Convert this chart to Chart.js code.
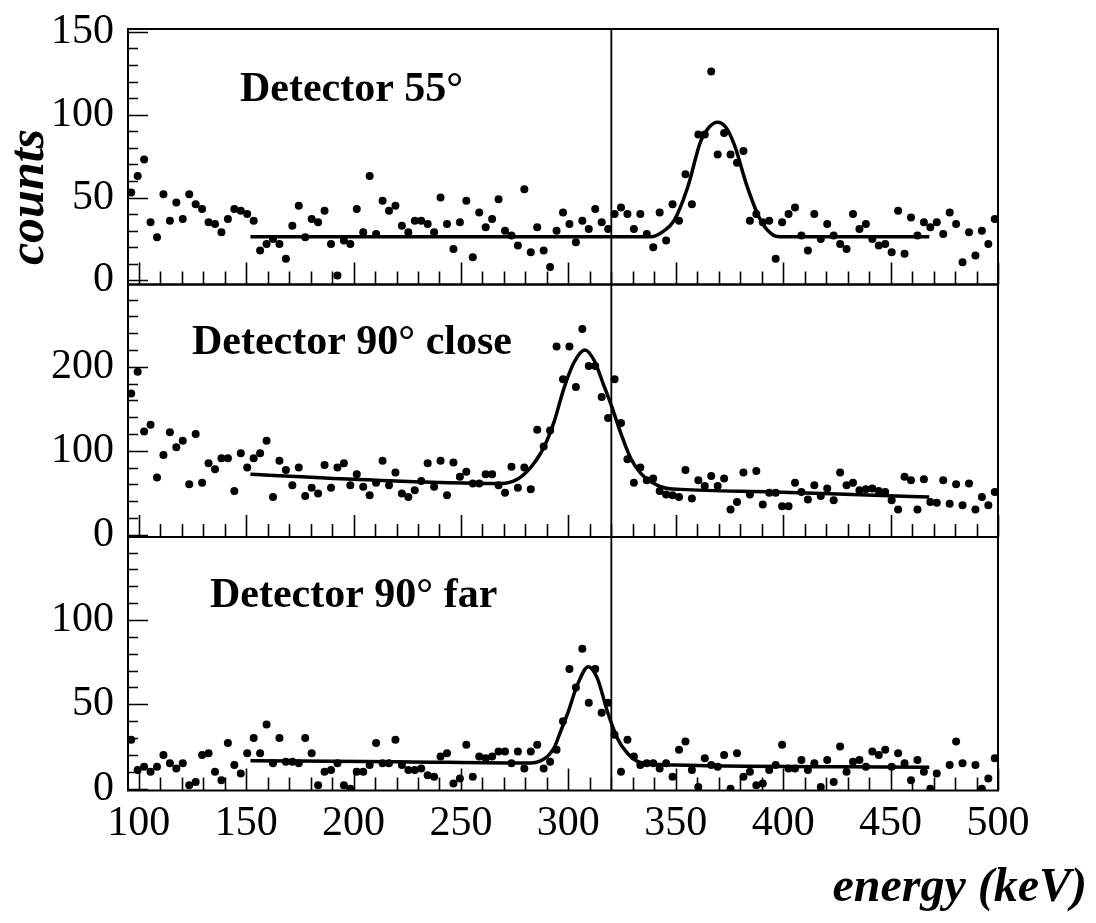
<!DOCTYPE html>
<html><head><meta charset="utf-8">
<script src="https://cdn.jsdelivr.net/npm/chart.js@4/dist/chart.umd.min.js"></script>
<style>
html,body{margin:0;padding:0;background:#fff;}
#wrap{position:relative;width:1096px;height:923px;overflow:hidden;background:#fff;}
#wrap canvas{position:absolute;left:0;top:0;}
</style></head><body>
<div id="wrap">
<canvas id="c1" width="1096" height="923"></canvas>
<canvas id="c2" width="1096" height="923"></canvas>
<canvas id="c3" width="1096" height="923"></canvas>
</div>
<script>
// ---- data ----
const energy = [
96.5,99.5,102.5,105.5,108.5,111.5,114.5,117.5,120.5,123.5,
126.5,129.5,132.5,135.5,138.5,141.5,144.5,147.5,150.5,153.5,
156.5,159.5,162.5,165.5,168.5,171.5,174.5,177.5,180.5,183.5,
186.5,189.5,192.5,195.5,198.5,201.5,204.5,207.5,210.5,213.5,
216.5,219.5,222.5,225.5,228.5,231.5,234.5,237.5,240.5,243.5,
246.5,249.5,252.5,255.5,258.5,261.5,264.5,267.5,270.5,273.5,
276.5,279.5,282.5,285.5,288.5,291.5,294.5,297.5,300.5,303.5,
306.5,309.5,312.5,315.5,318.5,321.5,324.5,327.5,330.5,333.5,
336.5,339.5,342.5,345.5,348.5,351.5,354.5,357.5,360.5,363.5,
366.5,369.5,372.5,375.5,378.5,381.5,384.5,387.5,390.5,393.5,
396.5,399.5,402.5,405.5,408.5,411.5,414.5,417.5,420.5,423.5,
426.5,429.5,432.5,435.5,438.5,441.5,444.5,447.5,450.5,453.5,
456.5,459.5,462.5,465.5,468.5,471.5,474.5,477.5,480.5,483.5,
486.5,489.5,492.5,495.5,498.5];

const counts55 = [
53,63,73,35,26,52,36,47,37,52,46,43,35,34,29,37,43,42,40,36,
18,22,25,22,13,33,45,26,37,35,42,22,3,24,22,43,29,63,28,48,
42,45,33,29,36,36,34,29,50,34,19,35,48,14,41,32,37,49,30,27,
21,55,17,32,18,8,30,
41,34,23,36,31,43,35,31,40,44,40,31,40,28,20,41,24,46,36,64,
46,88,88,126,76,89,76,71,78,36,40,35,36,13,35,40,44,27,18,40,
25,34,27,22,19,40,31,34,25,21,22,17,42,16,38,27,35,32,35,28,
41,34,11,29,15,30,22,37];

const counts90close = [
168,194,123,131,68,95,122,104,112,60,120,62,85,78,91,91,52,97,80,91,
97,112,45,88,77,59,80,46,56,49,83,56,80,85,59,72,57,47,62,88,
59,74,49,45,53,64,85,57,88,47,86,69,75,61,61,72,72,59,50,81,
56,80,54,125,105,124,224,
185,224,176,245,201,201,164,139,185,133,90,62,80,65,67,52,48,47,45,77,
43,65,58,70,58,67,30,39,74,48,76,36,50,50,34,34,62,51,42,59,
46,55,41,74,59,62,53,54,55,52,51,41,30,69,65,30,66,39,38,65,
37,60,35,61,30,45,35,51];

const counts90far = [
29,11,13,10,13,20,15,12,15,2,4,20,21,10,5,27,14,9,21,30,
21,38,15,30,16,16,15,30,21,2,10,11,15,2,0,10,10,14,27,15,
15,29,14,11,11,12,8,7,19,21,3,6,26,7,19,18,19,22,22,15,
22,12,22,26,12,16,23,
40,71,60,83,51,71,45,51,32,10,29,19,14,15,15,12,15,7,23,28,
11,1,18,14,13,20,0,21,7,10,2,3,11,14,26,12,12,17,11,15,
1,17,4,25,10,16,17,13,22,20,23,13,21,15,5,17,10,0,9,null,
14,28,15,null,14,0,6,18];

// fitted curves
const fitEnergy55 = [152,338.4,344.5,349.2,355.5,361.6,365.5,369.4,373.3,377.2,383.4,389.6,395.8,398.9,468];
const fitCounts55 = [26.3,26.3,29.9,36,56,84,92.4,95.4,92.4,82,56,36,27,26.3,26.3];

const fitEnergy90close = [152,200,268.5,276.2,282.4,287.1,290.2,293.3,297.9,302.6,307.7,311.9,316.6,319.7,324.4,329,333.7,338.4,344.6,352.4,395.8,442.4,468];
const fitCounts90close = [72,66,61,66,80,97,113,134,174,205,220,208,177,156,121,91,73,63,56,54,51,47,45];

const fitEnergy90far = [152,220,282.4,287.1,290.2,293.3,296.4,299.5,304.2,309.3,313.5,318.2,322.8,327.5,333.7,349.2,468];
const fitCounts90far = [16.6,16,15.2,16.5,19,24,34,44,61.5,72.3,65.4,45.6,29.9,21,15.5,14,12.7];

const markerEnergy = 320;

const xTicks = [100,150,200,250,300,350,400,450,500];
const yTicks55 = [0,50,100,150];
const yTicks90close = [0,100,200];
const yTicks90far = [0,50,100];

const panelTitles = ['Detector 55\u00b0', 'Detector 90\u00b0 close', 'Detector 90\u00b0 far'];
const xTitle = 'energy (keV)';
const yTitle = 'counts';

// ---- drawing ----
const SERIF = '"Liberation Serif", "Times New Roman", serif';
Chart.defaults.font.family = SERIF;
Chart.defaults.color = '#000';

const framePlugin = {
  id: 'panelFrame',
  afterDatasetsDraw(chart, args, o) {
    const {ctx, chartArea: a} = chart;
    const x = chart.scales.x, y = chart.scales.y;
    ctx.save();
    ctx.strokeStyle = '#000';
    ctx.lineWidth = 1.6;
    ctx.beginPath();
    // y ticks (inside)
    for (let v = 0; v <= y.max + 1e-6; v += o.yMinor) {
      const py = Math.round(y.getPixelForValue(v)) + 0.5;
      const len = (o.yMajors.includes(v)) ? 20 : 10;
      ctx.moveTo(a.left, py); ctx.lineTo(a.left + len, py);
    }
    // x ticks (inside, from bottom)
    for (let v = 100; v <= 500; v += 10) {
      const px = Math.round(x.getPixelForValue(v)) + 0.5;
      const len = (v % 50 === 0) ? 22 : 13;
      ctx.moveTo(px, a.bottom); ctx.lineTo(px, a.bottom - len);
    }
    ctx.stroke();
    // frame
    ctx.lineWidth = 2;
    ctx.strokeRect(a.left, a.top, a.right - a.left, a.bottom - a.top);
    // panel title
    ctx.fillStyle = '#000';
    ctx.font = 'bold 42px ' + SERIF;
    ctx.textAlign = 'left';
    ctx.textBaseline = 'alphabetic';
    ctx.fillText(o.title, o.tx, o.ty);
    // axis titles
    if (o.yTitle) {
      ctx.save();
      ctx.font = 'italic bold 50px ' + SERIF;
      ctx.translate(o.yTitle.x, o.yTitle.y);
      ctx.rotate(-Math.PI / 2);
      ctx.textAlign = 'center';
      ctx.fillText(o.yTitle.text, 0, 0);
      ctx.restore();
    }
    if (o.xTitle) {
      ctx.font = 'italic bold 48px ' + SERIF;
      ctx.textAlign = 'right';
      ctx.fillText(o.xTitle.text, o.xTitle.x, o.xTitle.y);
    }
    ctx.restore();
  }
};

function makePanel(id, counts, fitE, fitC, yMin, yMax, yTicks, yMinor, title, tx, ty, padTop, padBottom, showX, extra) {
  const points = energy.map((e, i) => ({x: e, y: counts[i]}));
  const fit = fitE.map((e, i) => ({x: e, y: fitC[i]}));
  const marker = [{x: markerEnergy, y: yMin}, {x: markerEnergy, y: yMax}];
  const xScale = {
    type: 'linear', min: 95, max: 500,
    grid: {display: false, drawTicks: false}, border: {display: false},
    afterBuildTicks: s => { s.ticks = xTicks.map(v => ({value: v})); }
  };
  if (showX) {
    xScale.display = true;
    xScale.ticks = {font: {size: 42, family: SERIF}, color: '#000', padding: 8, maxRotation: 0, autoSkip: false};
    xScale.afterFit = s => { s.height = 132.5; s.paddingLeft = 0; s.paddingRight = 0; };
  } else {
    xScale.display = false;
  }
  return new Chart(document.getElementById(id), {
    type: 'scatter',
    data: {datasets: [
      {data: fit, showLine: true, borderColor: '#000', borderWidth: 3.5, pointRadius: 0,
       cubicInterpolationMode: 'monotone', fill: false},
      {data: marker, showLine: true, borderColor: '#000', borderWidth: 1.8, pointRadius: 0, fill: false},
      {data: points, showLine: false, pointRadius: 4, pointBackgroundColor: '#000',
       pointBorderWidth: 0, pointBorderColor: '#000'}
    ]},
    options: {
      responsive: false, animation: false, events: [],
      layout: {padding: {left: 0, right: 98, top: padTop, bottom: padBottom}},
      plugins: {legend: {display: false}, tooltip: {enabled: false},
        panelFrame: Object.assign({title, tx, ty, yMinor, yMajors: yTicks}, extra || {})},
      scales: {
        x: xScale,
        y: {
          type: 'linear', min: yMin, max: yMax,
          grid: {display: false, drawTicks: false}, border: {display: false},
          ticks: {font: {size: 42, family: SERIF}, color: '#000', padding: 14},
          afterBuildTicks: s => { s.ticks = yTicks.map(v => ({value: v})); },
          afterFit: s => { s.width = 128; s.paddingTop = 0; s.paddingBottom = 0; }
        }
      }
    },
    plugins: [framePlugin]
  });
}

makePanel('c1', counts55, fitEnergy55, fitCounts55, -2.5, 151.7, yTicks55, 10,
  panelTitles[0], 240, 101, 29, 923 - 284.5, false,
  {yTitle: {text: yTitle, x: 43, y: 197}});
makePanel('c2', counts90close, fitEnergy90close, fitCounts90close, -2.7, 297.9, yTicks90close, 20,
  panelTitles[1], 192, 354, 284.5, 923 - 537, false);
makePanel('c3', counts90far, fitEnergy90far, fitCounts90far, -1.1, 149.2, yTicks90far, 10,
  panelTitles[2], 210, 607, 537, 0, true,
  {xTitle: {text: xTitle, x: 1087, y: 901}});
</script>
</body></html>
